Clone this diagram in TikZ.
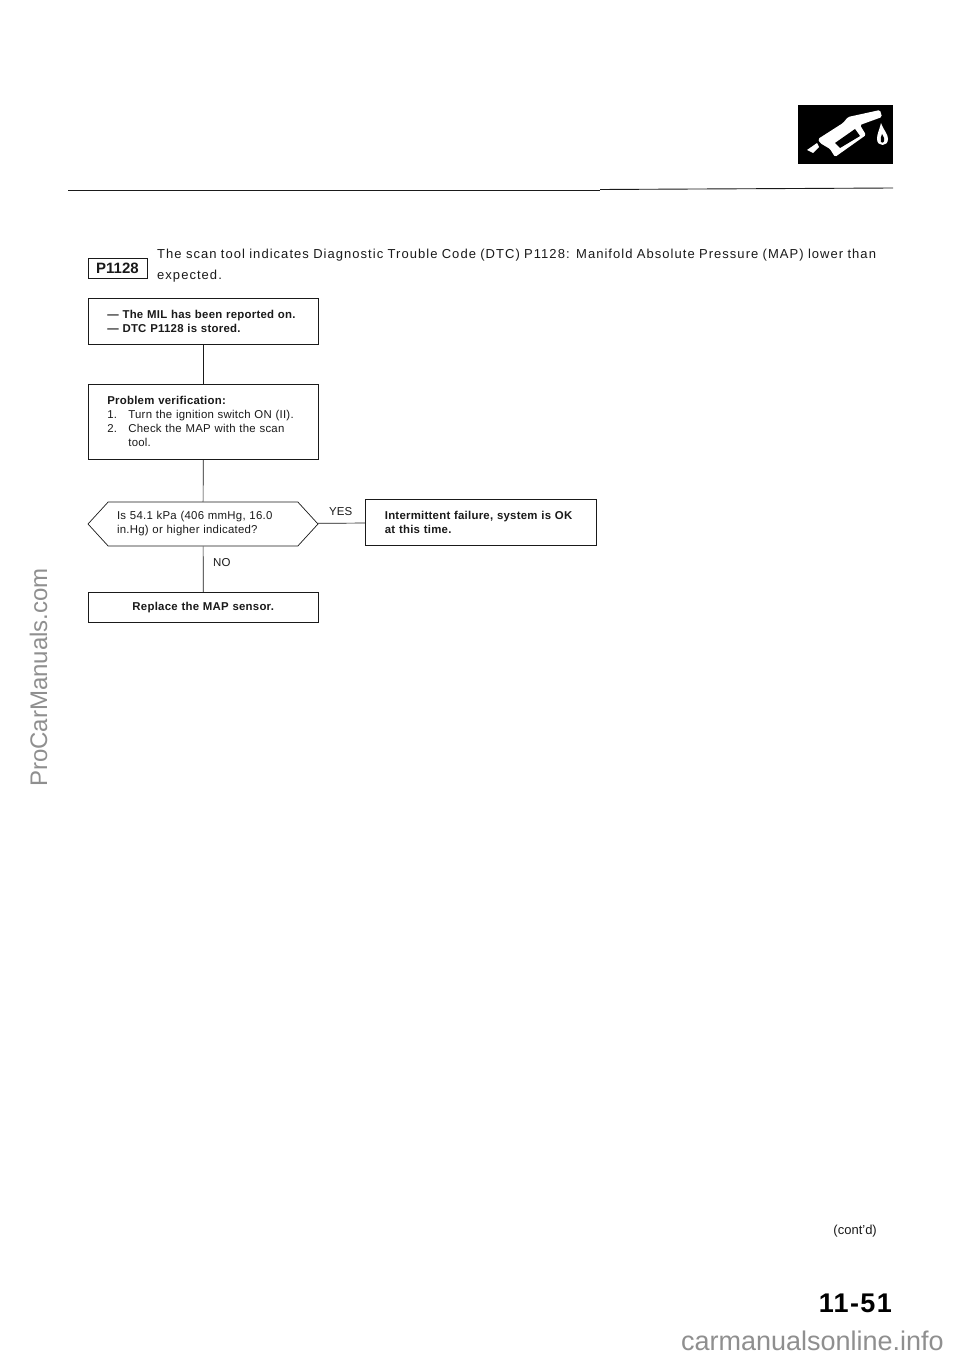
\documentclass[tikz,border=0pt]{standalone}
\usepackage{fontspec}
\setmainfont{Liberation Sans}
\usetikzlibrary{shapes.symbols}

\newcommand{\boxfont}{\fontsize{11.4}{14}\selectfont\addfontfeatures{LetterSpace=2.2}}

\begin{document}
\begin{tikzpicture}[x=1pt,y=-1pt]

% Colori
\definecolor{inkBlack}{HTML}{1A1A1A}
\definecolor{markGray}{HTML}{8F8F8F}

\tikzset{
  stepbox/.style={draw=inkBlack, line width=0.7pt, minimum width=230pt, anchor=north west,
    inner xsep=19pt, inner ysep=0pt, text width=192pt, align=left, text=inkBlack, font=\boxfont},
  askbox/.style={draw=inkBlack, line width=0.7pt, shape=signal, signal to=west and east,
    signal pointer angle=95, minimum width=230pt, minimum height=44pt, inner xsep=1pt, inner ysep=0pt,
    text width=172pt, align=left, text=inkBlack, font=\boxfont},
  flowline/.style={draw=inkBlack, line width=0.7pt},
  flowlabel/.style={text=inkBlack, inner sep=0pt, font=\fontsize{11.5}{13}\selectfont},
  marktext/.style={text=markGray, inner sep=0pt}
}

\useasboundingbox (0,0) rectangle (960,1356);
\fill[white] (0,0) rectangle (960,1356);

% Icona pompa
\fill[black] (798,105) rectangle (893,164);
\fill[white, rounded corners=1.5pt] (818,139) -- (843,123) -- (848,117) -- (880,110) -- (882,117) -- (860,125)
  -- (866,135) -- (835,157) -- (830,149) -- (820,143) -- cycle;
\fill[black] (835,143) -- (855,129) -- (860,136) -- (840,148) -- cycle;
\fill[white] (807,150) -- (817,143) -- (819,147) -- (813,153) -- cycle;
\fill[white] (881,123) .. controls (879,131) and (877,134) .. (877,139) .. controls (877,147) and (888,147) .. (888,139) .. controls (888,134) and (884,131) .. (881,123) -- cycle;
\fill[black] (882,134) .. controls (881,137) and (880,139) .. (881,142) .. controls (883,144) and (885,141) .. (884,138) -- cycle;

% Filetto di testa
\draw[inkBlack, line width=1.4pt] (68,190.5) -- (600,190.5);
\draw[inkBlack, line width=0.9pt] (600,189.5) -- (893,188);

% Intestazione
\node[draw=inkBlack, line width=0.9pt, minimum width=59pt, minimum height=20pt, inner sep=0pt,
  font=\fontsize{15}{18}\selectfont\bfseries, text=inkBlack] (code) at (117.5,268) {P1128};
\node[anchor=north west, inner sep=0pt, text width=745pt, align=left, text=inkBlack,
  font=\fontsize{13}{21}\selectfont\addfontfeatures{LetterSpace=8}] (intro) at (157,248.5)
  {The scan tool indicates Diagnostic Trouble Code (DTC) P1128: Manifold Absolute Pressure (MAP) lower than\\expected.};

% Riquadri
\node[stepbox, minimum height=46pt] (reported) at (88,298)
  {\textbf{--- The MIL has been reported on.}\\\textbf{--- DTC P1128 is stored.}};
\node[stepbox, minimum height=75pt] (verify) at (88,384)
  {\textbf{Problem verification:}\\\makebox[21pt][l]{1.}Turn the ignition switch ON (II).\\\makebox[21pt][l]{2.}Check the MAP with the scan\\\hspace*{21pt}tool.};
\node[askbox] (ask) at (203,524)
  {Is 54.1 kPa (406 mmHg, 16.0\\in.Hg) or higher indicated?};
\node[stepbox, minimum width=231pt, minimum height=46pt] (failure) at (365,499)
  {\textbf{Intermittent failure, system is OK}\\\textbf{at this time.}};
\node[stepbox, minimum height=30pt, align=center] (replace) at (88,592)
  {\textbf{Replace the MAP sensor.}};

% Collegamenti
\draw[flowline] (reported) -- (verify);
\draw[flowline] (verify) -- (ask);
\draw[flowline] (ask) -- (replace);
\draw[flowline] (ask) -- (failure);

% Etichette
\node[flowlabel, anchor=west] (yes) at (329,512) {YES};
\node[flowlabel, anchor=west] (no) at (213,563) {NO};

% Piede di pagina
\node[anchor=east, inner sep=0pt, text=inkBlack, font=\fontsize{13}{15}\selectfont] (contd) at (877,1231) {(cont'd)};
\node[anchor=east, inner sep=0pt, text=black, font=\fontsize{27}{30}\selectfont\bfseries\addfontfeatures{LetterSpace=5}] (page) at (892,1303) {11-51};

% Scritte sul margine
\node[marktext, rotate=90, anchor=base west, font=\fontsize{24}{26}\selectfont] (side) at (47,787) {ProCarManuals.com};
\node[marktext, anchor=base east, font=\fontsize{27}{29}\selectfont] (bottom) at (944,1350.5) {carmanualsonline.info};

\end{tikzpicture}
\end{document}
